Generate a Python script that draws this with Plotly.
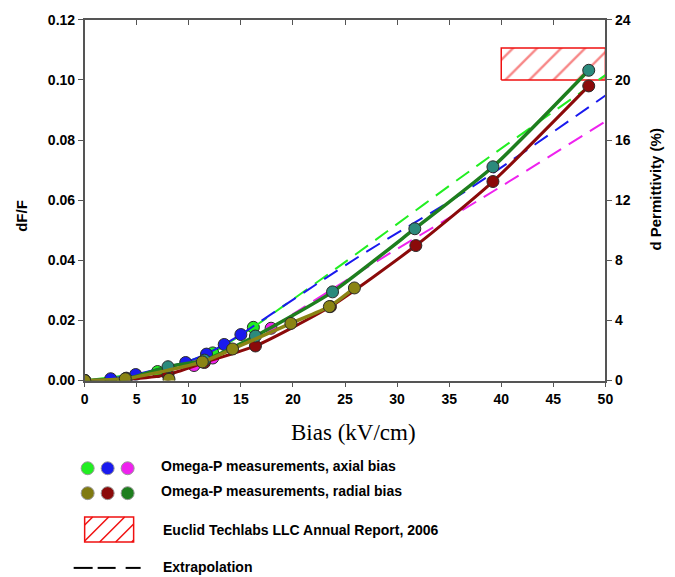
import plotly.graph_objects as go

# ---------------- data ----------------
# axial bias measurements
ax_green_x = [0, 7.0, 12.3, 16.2]
ax_green_y = [0, 0.0030, 0.0092, 0.0177]
ax_blue_x = [0, 2.5, 4.9, 9.7, 11.7, 13.4, 15.0]
ax_blue_y = [0, 0.0006, 0.0020, 0.0060, 0.0088, 0.0120, 0.0153]
ax_mag_x = [0, 4.0, 10.5, 12.3, 17.9]
ax_mag_y = [0, 0.0008, 0.0050, 0.0075, 0.0174]

# radial bias measurements
rad_red_x = [0, 4.0, 8.0, 11.5, 16.4, 23.6, 31.8, 39.2, 48.4]
rad_red_y = [0, 0.0004, 0.0020, 0.0060, 0.0115, 0.0246, 0.0449, 0.0662, 0.0980]
rad_green_x = [0, 4.0, 8.0, 11.5, 16.4, 23.8, 31.7, 39.2, 48.4]
rad_green_y = [0, 0.0006, 0.0046, 0.0068, 0.0148, 0.0295, 0.0505, 0.0711, 0.1032]
rad_olive_x = [0, 3.9, 8.1, 11.3, 14.2, 19.8, 23.5, 25.9]
rad_olive_y = [0, 0.0006, 0.0004, 0.0062, 0.0105, 0.0190, 0.0246, 0.0308]
olive_fit_x = [0, 3.9, 11.3, 14.2, 19.8, 23.5, 25.9]
olive_fit_y = [0, 0.0006, 0.0062, 0.0105, 0.0190, 0.0246, 0.0308]

# extrapolations
ext_green_x = [16.2, 24.6, 37.7, 50]
ext_green_y = [0.0177, 0.0384, 0.0715, 0.1016]
ext_blue_x = [15.0, 26.5, 36.4, 50]
ext_blue_y = [0.0153, 0.0416, 0.0626, 0.0948]
ext_mag_x = [17.9, 28.2, 37.7, 50]
ext_mag_y = [0.0174, 0.0400, 0.0597, 0.0862]

# Euclid Techlabs report region
euclid_x = [40, 50, 50, 40, 40]
euclid_y = [0.100, 0.100, 0.1106, 0.1106, 0.100]

x_ticks = [0, 5, 10, 15, 20, 25, 30, 35, 40, 45, 50]
y_ticks = [0, 0.02, 0.04, 0.06, 0.08, 0.10, 0.12]
y2_ticks = [0, 4, 8, 12, 16, 20, 24]

# ---------------- styles ----------------
C_LIME = "#22ee22"
C_BLUE = "#1a1aee"
C_MAG = "#ee22ee"
C_RED = "#8b0a0a"
C_GREEN_LINE = "#1e7e1e"
C_TEAL = "#2b8a7c"
C_OLIVE = "#8a8414"
HATCH = "#f01010"
AXC = "#555555"
OFF = 8  # default page body margin of the browser
W, H = 675, 577
# measured page -> picture mapping of the viewer
AX, BX, AY, BY = 3.45, 0.9827, 6.4, 0.9756
BOLD = dict(family="Liberation Sans, Arial, sans-serif", size=14, color="black", weight="bold")


def px(x):
    return ((x - AX) / BX - OFF) / W


def py(y):
    return 1 - ((y - AY) / BY - OFF) / H


mk = lambda c: dict(size=12, color=c, line=dict(color="#2a2a2a", width=1))

fig = go.Figure()

# hatched report box
fig.add_trace(go.Scatter(x=euclid_x, y=euclid_y, mode="lines", fill="toself",
                         line=dict(color=HATCH, width=1.5),
                         fillpattern=dict(shape="/", fgcolor=HATCH, bgcolor="white",
                                          size=17, solidity=0.14),
                         fillcolor="white", hoverinfo="skip"))

# axial series (lines + markers)
for xs, ys, c in [(ax_mag_x, ax_mag_y, C_MAG), (ax_green_x, ax_green_y, C_LIME),
                  (ax_blue_x, ax_blue_y, C_BLUE)]:
    fig.add_trace(go.Scatter(x=xs, y=ys, mode="lines+markers", line=dict(color=c, width=2),
                             marker=mk(c)))

# extrapolations
for xs, ys, c in [(ext_green_x, ext_green_y, C_LIME), (ext_blue_x, ext_blue_y, C_BLUE),
                  (ext_mag_x, ext_mag_y, C_MAG)]:
    fig.add_trace(go.Scatter(x=xs, y=ys, mode="lines",
                             line=dict(color=c, width=2, dash="16px,9px", shape="spline")))

# radial series
fig.add_trace(go.Scatter(x=rad_red_x, y=rad_red_y, mode="lines+markers",
                         line=dict(color=C_RED, width=3, shape="spline", smoothing=0.6),
                         marker=mk(C_RED)))
fig.add_trace(go.Scatter(x=rad_green_x, y=rad_green_y, mode="lines+markers",
                         line=dict(color=C_GREEN_LINE, width=3.5, shape="spline", smoothing=0.6),
                         marker=mk(C_TEAL)))
fig.add_trace(go.Scatter(x=olive_fit_x, y=olive_fit_y, mode="lines",
                         line=dict(color=C_OLIVE, width=3.5, shape="spline", smoothing=0.6)))
fig.add_trace(go.Scatter(x=rad_olive_x, y=rad_olive_y, mode="markers", marker=mk(C_OLIVE)))

# dummy traces for secondary axes
fig.add_trace(go.Scatter(x=[None], y=[None], xaxis="x2", yaxis="y", showlegend=False))
fig.add_trace(go.Scatter(x=[None], y=[None], xaxis="x", yaxis="y2", showlegend=False))

xdom = [px(84), px(605)]
ydom = [py(380), py(18)]
common = dict(showgrid=False, zeroline=False, showline=True, linecolor=AXC, linewidth=1.5,
              tickcolor=AXC, ticklen=5, tickwidth=1.2, tickfont=BOLD, ticklabeloverflow="allow")

fig.update_layout(
    width=W, height=H, autosize=False, margin=dict(l=0, r=0, t=0, b=0),
    paper_bgcolor="white", plot_bgcolor="white", showlegend=False,
    xaxis=dict(domain=xdom, range=[0, 50], tickvals=x_ticks, ticks="outside", anchor="y", **common),
    xaxis2=dict(domain=xdom, range=[0, 50], tickvals=x_ticks, ticks="inside", overlaying="x",
                side="top", anchor="y", showticklabels=False,
                **{k: v for k, v in common.items() if k not in ("tickfont", "ticklabeloverflow")}),
    yaxis=dict(domain=ydom, range=[0, 0.12], tickvals=y_ticks, tickformat=".2f",
               ticks="outside", anchor="x", **common),
    yaxis2=dict(domain=ydom, range=[0, 24], tickvals=y2_ticks, ticks="outside", side="right",
                overlaying="y", anchor="x", **common),
)

ann = []
shapes = []


def text_at(x, y, text, font, xanchor="center", angle=0):
    ann.append(dict(x=px(x), y=py(y), xref="paper", yref="paper", text=text, textangle=angle,
                    xanchor=xanchor, yanchor="middle", showarrow=False, font=font))


# axis titles
text_at(353, 432, "Bias (kV/cm)",
        dict(family="Liberation Serif, Times New Roman, serif", size=23, color="black"))
text_at(20, 215, "dF/F", dict(BOLD, size=15), angle=-90)
text_at(655, 188, "d Permittivity (%)", dict(BOLD, size=15), angle=-90)

# legend rows
legend_rows = [
    ("Omega-P measurements, axial bias", 466, 468, [C_LIME, C_BLUE, C_MAG]),
    ("Omega-P measurements, radial bias", 491, 493, ["#807a10", C_RED, C_GREEN_LINE]),
]
r = 6.5
for text, ty, cy, cols in legend_rows:
    text_at(158, ty, text, BOLD, xanchor="left")
    for cx, c in zip([87, 107, 127], cols):
        shapes.append(dict(type="circle", xref="paper", yref="paper",
                           x0=px(cx - r), x1=px(cx + r), y0=py(cy + r), y1=py(cy - r),
                           fillcolor=c, line=dict(color="#999999", width=1)))

# hatched legend box
bx0, bx1, by0, by1 = 84, 133, 517, 542
shapes.append(dict(type="rect", xref="paper", yref="paper", x0=px(bx0), x1=px(bx1),
                   y0=py(by1), y1=py(by0), fillcolor="white", line=dict(color=HATCH, width=1.5)))
hgt = by1 - by0
for s in range(bx0 - hgt + 8, bx1 + hgt, 16):
    xa, ya, xb, yb = s, by1, s + hgt, by0
    if xa < bx0:
        ya -= (bx0 - xa); xa = bx0
    if xb > bx1:
        yb += (xb - bx1); xb = bx1
    if xb <= xa:
        continue
    shapes.append(dict(type="line", xref="paper", yref="paper", x0=px(xa), y0=py(ya),
                       x1=px(xb), y1=py(yb), line=dict(color=HATCH, width=1.5)))
text_at(160, 530, "Euclid Techlabs LLC Annual Report, 2006", BOLD, xanchor="left")

# dashed legend line
for a, b in [(73, 92), (97, 115), (125, 140)]:
    shapes.append(dict(type="line", xref="paper", yref="paper", x0=px(a), x1=px(b),
                       y0=py(568), y1=py(568), line=dict(color="black", width=2)))
text_at(160, 567, "Extrapolation", BOLD, xanchor="left")

fig.update_layout(annotations=ann, shapes=shapes)

fig.write_html("out.html", config={"displayModeBar": False, "responsive": False})
